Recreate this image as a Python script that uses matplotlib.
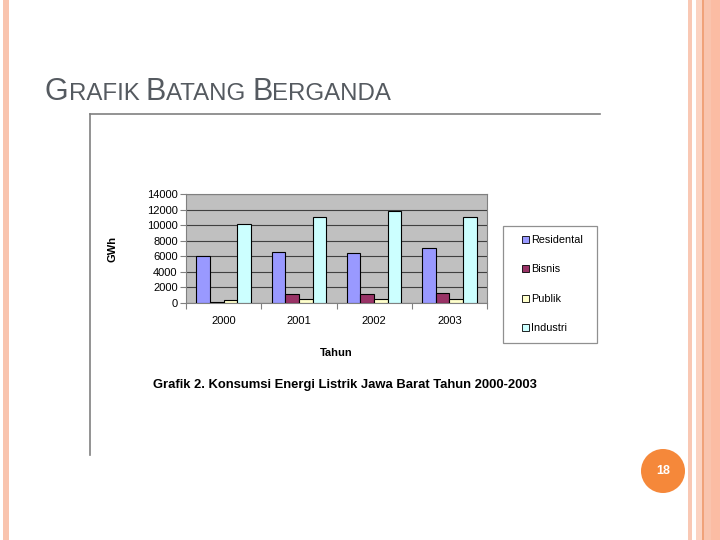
import matplotlib.pyplot as plt
import numpy as np
from matplotlib.patches import Rectangle, Circle

plt.rcParams['font.family'] = ['Liberation Sans', 'DejaVu Sans']

# Data
years = ['2000', '2001', '2002', '2003']
series = ['Residental', 'Bisnis', 'Publik', 'Industri']
residental = [6100, 6600, 6450, 7050]
bisnis = [100, 1150, 1200, 1300]
publik = [400, 450, 450, 550]
industri = [10200, 11000, 11800, 11000]
values = [residental, bisnis, publik, industri]
colors = ['#9999FF', '#993366', '#FFFFCC', '#CCFFFF']

fig = plt.figure(figsize=(7.2, 5.4), dpi=100)

# slide background / decorations in pixel coordinates
bg = fig.add_axes([0, 0, 1, 1], zorder=0)
bg.set_xlim(0, 720)
bg.set_ylim(540, 0)
bg.axis('off')
bg.add_patch(Rectangle((3, 0), 6, 540, color='#F9C4AE', lw=0))
bg.add_patch(Rectangle((688, 0), 4, 540, color='#F9C8B4', lw=0))
bg.add_patch(Rectangle((696, 0), 6, 540, color='#FBD3C2', lw=0))
bg.add_patch(Rectangle((702, 0), 1.5, 540, color='#F0A27A', lw=0))
bg.add_patch(Rectangle((703.5, 0), 7, 540, color='#F9C4AE', lw=0))
bg.add_patch(Rectangle((710.5, 0), 9.5, 540, color='#FBBCA3', lw=0))

# chart picture frame (top and left lines)
bg.plot([90, 600], [114, 114], color='#808080', lw=1.2)
bg.plot([90, 90], [114, 455], color='#808080', lw=1.2)

# legend box drawn by hand
bg.add_patch(Rectangle((503, 226), 94, 117, facecolor='white', edgecolor='#909090', lw=0.9))

# slide title in small caps
title_color = '#555A60'
x0 = 45
for txt, size in [('G', 22), ('RAFIK ', 17.3), ('B', 22), ('ATANG ', 17.3), ('B', 22), ('ERGANDA', 17.3)]:
    t = bg.text(x0, 100.5, txt, fontsize=size, color=title_color, ha='left', va='baseline')
    fig.canvas.draw()
    bb = t.get_window_extent()
    x0 += bb.width

# page number badge
bg.add_patch(Circle((663, 471), 22, color='#F5883A', lw=0))
bg.text(663, 471, '18', color='white', fontsize=9, fontweight='bold', ha='center', va='center')

# chart axes
ax = fig.add_axes([186 / 720, 1 - 303 / 540, 301 / 720, 109 / 540], zorder=2)
ax.set_facecolor('#C0C0C0')
x = np.arange(len(years))
width = 1 / 5.5
for i, (name, vals, c) in enumerate(zip(series, values, colors)):
    ax.bar(x + (i - 1.5) * width, vals, width, color=c, edgecolor='black', linewidth=0.8,
           label=name, zorder=3)

ax.set_ylim(0, 14000)
ax.set_xlim(-0.5, 3.5)
ax.set_yticks(np.arange(0, 14001, 2000))
ax.yaxis.grid(True, color='#404040', linewidth=0.8, zorder=1)
ax.set_axisbelow(True)
ax.set_xticks(np.arange(-0.5, 4, 1))
ax.set_xticklabels([])
ax.set_xticks(x, minor=True)
ax.set_xticklabels(years, minor=True)
ax.tick_params(axis='x', which='major', length=4, direction='out', color='#808080')
ax.tick_params(axis='x', which='minor', length=0, pad=9, labelsize=8)
ax.tick_params(axis='y', length=4, direction='out', color='#808080', labelsize=8, pad=2)
for s in ax.spines.values():
    s.set_color('#808080')
    s.set_linewidth(0.8)

ax.set_ylabel('GWh', fontsize=8, fontweight='bold', labelpad=21)
ax.set_xlabel('Tahun', fontsize=8, fontweight='bold', labelpad=16)

leg = fig.legend(loc='upper left', bbox_to_anchor=(522 / 720, 1 - 235 / 540), fontsize=7.8,
                 frameon=False, handlelength=0.6, handleheight=0.6, handletextpad=0.2,
                 labelspacing=1.8, borderpad=0, borderaxespad=0)
for h in leg.legend_handles:
    h.set_linewidth(0.6)

fig.text(345 / 720, 1 - 385 / 540, 'Grafik 2. Konsumsi Energi Listrik Jawa Barat Tahun 2000-2003',
         fontsize=9.4, fontweight='bold', ha='center', va='center')

fig.savefig('out.png', dpi=100)
